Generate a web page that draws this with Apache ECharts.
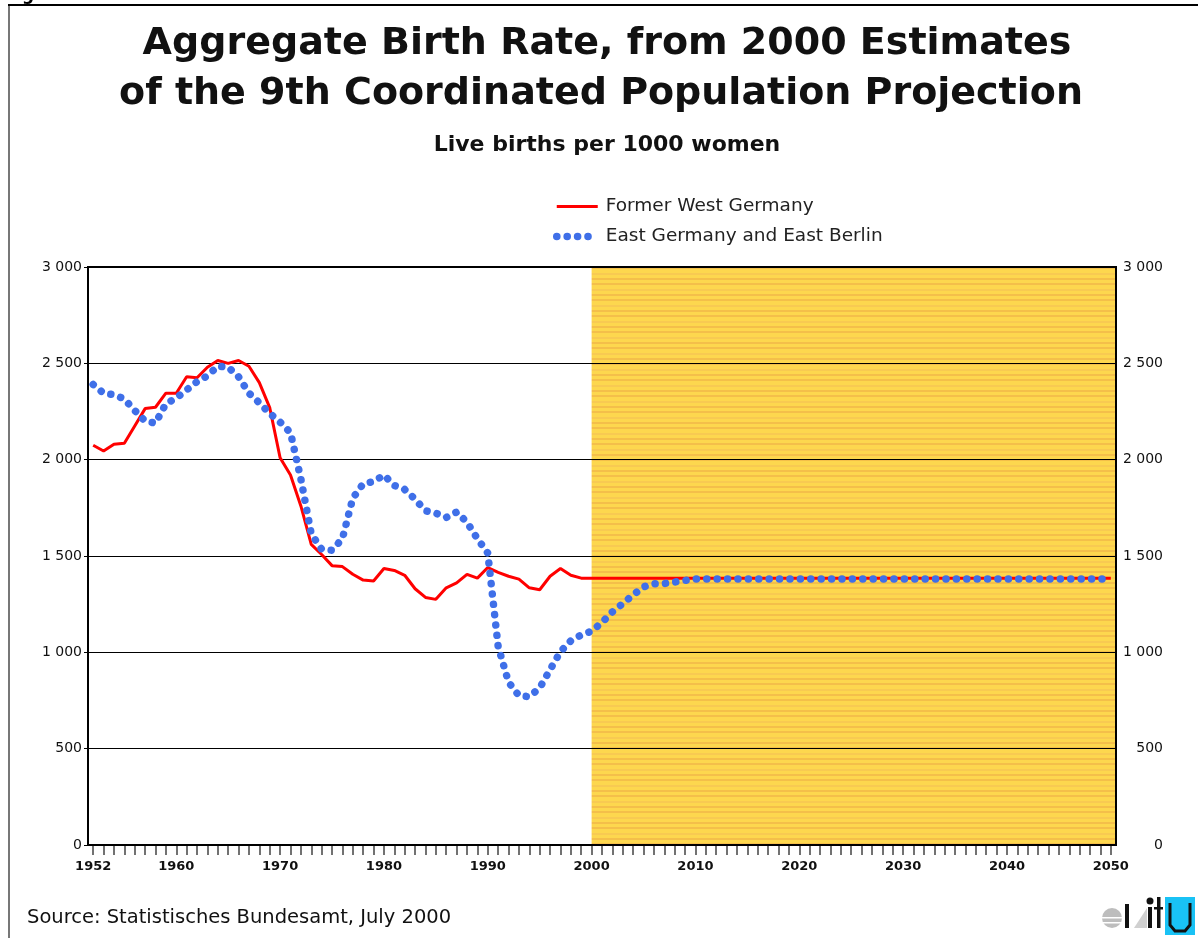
<!DOCTYPE html>
<html><head><meta charset="utf-8">
<script src="https://cdn.jsdelivr.net/npm/echarts@6/dist/echarts.min.js"></script>
<style>html,body{margin:0;padding:0;background:#fff}#c{width:1198px;height:938px}</style>
</head><body><div id="c"></div>
<script>
// ---------- data ----------
const firstYear = 1952, lastYear = 2050;
const years = [];
for (let y = firstYear; y <= lastYear; y++) years.push(y);
const xLabelYears = [1952, 1960, 1970, 1980, 1990, 2000, 2010, 2020, 2030, 2040, 2050];
const yTickValues = [0, 500, 1000, 1500, 2000, 2500, 3000];
const projectionStart = 2000;
const seriesNames = ['Former West Germany', 'East Germany and East Berlin'];

const westGermany = [
  2075, 2045, 2080, 2085, 2175, 2265, 2272, 2345, 2345, 2430, // 1952-1961
  2425, 2480, 2515, 2500, 2515, 2485, 2400, 2270, 2010, 1920, // 1962-1971
  1760, 1560, 1508, 1450, 1445, 1405, 1375, 1370, 1435, 1425, // 1972-1981
  1400, 1330, 1285, 1275, 1335, 1360, 1405, 1385, 1440, 1415, // 1982-1991
  1395, 1380, 1335, 1325, 1395, 1435, 1400, 1385, 1385, 1385, // 1992-2001
  1385, 1385, 1385, 1385, 1385, 1385, 1385, 1385, 1385, 1385, // 2002-2011
  1385, 1385, 1385, 1385, 1385, 1385, 1385, 1385, 1385, 1385, // 2012-2021
  1385, 1385, 1385, 1385, 1385, 1385, 1385, 1385, 1385, 1385, // 2022-2031
  1385, 1385, 1385, 1385, 1385, 1385, 1385, 1385, 1385, 1385, // 2032-2041
  1385, 1385, 1385, 1385, 1385, 1385, 1385, 1385, 1385        // 2042-2050
];
const eastGermany = [
  2390, 2345, 2337, 2315, 2255, 2200, 2190, 2290, 2320, 2362, // 1952-1961
  2405, 2435, 2485, 2480, 2430, 2345, 2295, 2240, 2195, 2140, // 1962-1971
  1900, 1615, 1535, 1530, 1590, 1800, 1875, 1886, 1920, 1866, // 1972-1981
  1845, 1795, 1735, 1722, 1700, 1728, 1675, 1590, 1515, 1030, // 1982-1991
   845,  775,  770,  815,  910, 1003, 1060, 1090, 1110, 1155, // 1992-2001
  1210, 1253, 1298, 1340, 1356, 1357, 1365, 1373, 1380, 1380, // 2002-2011
  1380, 1380, 1380, 1380, 1380, 1380, 1380, 1380, 1380, 1380, // 2012-2021
  1380, 1380, 1380, 1380, 1380, 1380, 1380, 1380, 1380, 1380, // 2022-2031
  1380, 1380, 1380, 1380, 1380, 1380, 1380, 1380, 1380, 1380, // 2032-2041
  1380, 1380, 1380, 1380, 1380, 1380, 1380, 1380, 1380        // 2042-2050
];

// ---------- styling helpers ----------
const xMin = 1951.5, xMax = 2050.5;
function fmtThousands(v) {
  if (v >= 1000) return Math.floor(v / 1000) + ' ' + String(v % 1000).padStart(3, '0');
  return String(v);
}
function stripeGradient() {
  const H = 578, base = '#FDD74E', s1 = '#F4BF4A', s2 = '#F8CA52';
  const pattern = [[0, 2, s1], [2, 6, base], [6, 8, s2], [8, 11, base], [11, 13, s1], [13, 16, base]];
  const period = 16, stops = [];
  for (let p = 0; p < H; p += period) {
    pattern.forEach(([a, b, c]) => {
      stops.push({ offset: Math.min(1, (p + a) / H), color: c });
      stops.push({ offset: Math.min(1, (p + b) / H), color: c });
    });
  }
  return new echarts.graphic.LinearGradient(0, 0, 0, 1, stops);
}
const FONT = 'DejaVu Sans';

const chart = echarts.init(document.getElementById('c'), null, { renderer: 'canvas' });
chart.setOption({
  animation: false,
  backgroundColor: '#fff',
  grid: { left: 88, right: 82, top: 267, bottom: 93, show: true, borderColor: '#000', borderWidth: 2, z: 1.6 },
  legend: {
    orient: 'vertical', left: 548, top: 192, itemWidth: 41, itemHeight: 14, itemGap: 11,
    data: seriesNames,
    lineStyle: { width: 'inherit' },
    textStyle: { fontFamily: FONT, fontSize: 18.5, color: '#222', padding: [0, 0, 0, 3] },
    itemStyle: { opacity: 0 }
  },
  xAxis: {
    type: 'value', min: xMin, max: xMax,
    axisLine: { show: false },
    splitLine: { show: false },
    axisTick: { show: true, customValues: years, length: 10, lineStyle: { color: '#444', width: 1.5 } },
    axisLabel: {
      customValues: xLabelYears, margin: 15,
      fontFamily: FONT, fontSize: 13, fontWeight: 'bold', color: '#111',
      formatter: v => String(v)
    }
  },
  yAxis: [
    {
      type: 'value', min: 0, max: 3000, interval: 500, position: 'left', z: 1.5,
      axisLine: { show: false },
      axisTick: { show: true, length: 4, inside: false, lineStyle: { color: '#000', width: 1 } },
      splitLine: { show: true, lineStyle: { color: '#000', width: 1 } },
      axisLabel: { margin: 6, fontFamily: FONT, fontSize: 14, color: '#111', formatter: fmtThousands }
    },
    {
      type: 'value', min: 0, max: 3000, interval: 500, position: 'right',
      axisLine: { show: false }, axisTick: { show: false }, splitLine: { show: false },
      axisLabel: { margin: 47, align: 'right', fontFamily: FONT, fontSize: 14, color: '#111', formatter: fmtThousands }
    }
  ],
  series: [
    {
      name: seriesNames[0], type: 'line', z: 3,
      data: years.map((y, i) => [y, westGermany[i]]),
      symbol: 'none', color: '#FF0000',
      lineStyle: { color: '#FF0000', width: 3 },
      markArea: {
        silent: true,
        itemStyle: { color: stripeGradient() },
        data: [[{ xAxis: projectionStart }, { xAxis: xMax }]]
      }
    },
    {
      name: seriesNames[1], type: 'line', z: 4,
      data: years.map((y, i) => [y, eastGermany[i]]),
      symbol: 'none', color: '#3F6FE8',
      lineStyle: { color: '#3F6FE8', width: 7.5, type: [0.1, 10.3], cap: 'round', join: 'round' }
    }
  ],
  graphic: [
    // outer frame pieces
    { type: 'line', shape: { x1: 8, y1: 5, x2: 1198, y2: 5 }, style: { stroke: '#000', lineWidth: 2 } },
    { type: 'line', shape: { x1: 9, y1: 6, x2: 9, y2: 938 }, style: { stroke: '#777', lineWidth: 2 } },
    { type: 'text', x: 22, y: -13, style: { text: 'g', font: 'bold 17px "DejaVu Sans"', fill: '#000' } },
    // titles
    { type: 'text', x: 607, y: 44, style: { text: 'Aggregate Birth Rate, from 2000 Estimates', font: 'bold 38px "DejaVu Sans"', fill: '#111', align: 'center', verticalAlign: 'middle' } },
    { type: 'text', x: 601, y: 94, style: { text: 'of the 9th Coordinated Population Projection', font: 'bold 38px "DejaVu Sans"', fill: '#111', align: 'center', verticalAlign: 'middle' } },
    { type: 'text', x: 607, y: 145, style: { text: 'Live births per 1000 women', font: 'bold 22px "DejaVu Sans"', fill: '#111', align: 'center', verticalAlign: 'middle' } },
    { type: 'text', x: 27, y: 918, style: { text: 'Source: Statistisches Bundesamt, July 2000', font: '19.5px "DejaVu Sans"', fill: '#111', align: 'left', verticalAlign: 'middle' } },
    // difu logo
    { type: 'circle', shape: { cx: 1112, cy: 918, r: 10 }, style: { fill: '#BDBDBD' } },
    { type: 'rect', shape: { x: 1100, y: 917, width: 24, height: 1.5 }, style: { fill: '#fff' } },
    { type: 'rect', shape: { x: 1100, y: 922, width: 24, height: 1.5 }, style: { fill: '#fff' } },
    { type: 'rect', shape: { x: 1125, y: 904, width: 4, height: 24 }, style: { fill: '#111' } },
    { type: 'polygon', shape: { points: [[1134, 928], [1147, 928], [1147, 908]] }, style: { fill: '#D0D0D0' } },
    { type: 'circle', shape: { cx: 1150, cy: 901, r: 3.5 }, style: { fill: '#111' } },
    { type: 'rect', shape: { x: 1148, y: 907, width: 4, height: 21 }, style: { fill: '#111' } },
    { type: 'rect', shape: { x: 1157, y: 897, width: 3.5, height: 31 }, style: { fill: '#111' } },
    { type: 'rect', shape: { x: 1154, y: 907, width: 9, height: 2.5 }, style: { fill: '#111' } },
    { type: 'rect', shape: { x: 1165, y: 897, width: 30, height: 38 }, style: { fill: '#19C2F5' } },
    { type: 'polyline', shape: { points: [[1170, 903], [1170, 925], [1175, 931], [1185, 931], [1190, 925], [1190, 903]] }, style: { stroke: '#111', lineWidth: 3, fill: null } }
  ]
});
</script></body></html>
